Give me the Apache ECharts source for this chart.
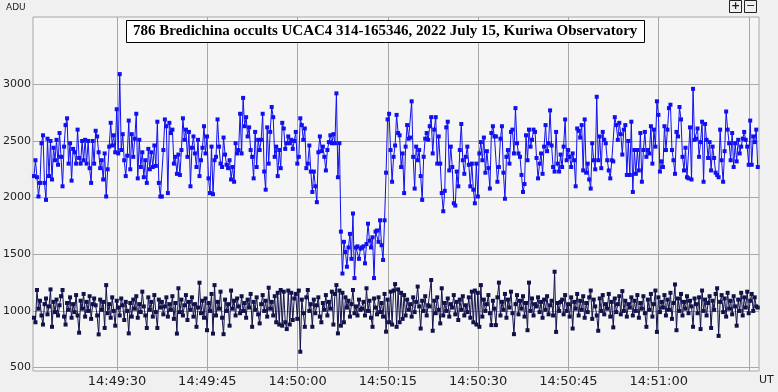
<!DOCTYPE html>
<html lang="en">
<head>
    <meta charset="utf-8">
    <title>786 Bredichina occultation</title>
    <script src="https://cdn.jsdelivr.net/npm/echarts@6.0.0/dist/echarts.min.js"></script>
    <style type="text/css">
        html, body {
            margin: 0;
            padding: 0;
            background: #f0f0f0;
        }

        #main {
            width: 778px;
            height: 392px;
        }
    </style>
</head>
<body>
<div id="main"></div>
<script type="text/javascript">
    // seconds after 14:49:00 UT, one frame every 0.25 s
    const startSec = 16.2;
    const frameStep = 0.25;

    // target star (blue), ADU
    const targetADU = [
        2190, 2330, 2180, 2010, 2130, 2480, 2550, 2130, 1980, 2520, 2190, 2500, 2160, 2440, 2330, 2510, 2290, 2570, 2360, 2100,
        2450, 2640, 2700, 2300, 2480, 2150, 2430, 2400, 2300, 2600, 2350, 2300, 2500, 2330, 2510, 2300, 2500, 2260, 2130, 2500, 2300,
        2590, 2540, 2400, 2260, 2330, 2160, 2390, 2010, 2250, 2450, 2660, 2460, 2550, 2400, 2780, 2390, 3090, 2420, 2560, 2330,
        2190, 2370, 2680, 2250, 2560, 2360, 2520, 2740, 2170, 2510, 2270, 2400, 2180, 2330, 2130, 2430, 2250, 2400, 2270, 2460,
        2280, 2670, 2130, 2010,
        2010, 2420, 2690, 2630, 2040, 2660, 2570, 2600, 2300, 2360, 2210, 2380, 2200, 2420, 2700, 2510, 2600, 2360, 2580, 2100,
        2440, 2540, 2390, 2270, 2510, 2190, 2330, 2440, 2630, 2390, 2540, 2170, 2040, 2450, 2030, 2330, 2360, 2690, 2450, 2300,
        2270, 2530, 2380, 2290, 2260,
        2330, 2160, 2270, 2140, 2480, 2390, 2420, 2740, 2390, 2880, 2630, 2710, 2540, 2620, 2420, 2360, 2170, 2580, 2270, 2510,
        2420, 2510, 2740, 2230, 2070, 2620, 2300, 2580, 2800, 2710, 2360, 2450, 2190, 2420, 2260, 2660, 2610, 2430, 2480, 2540,
        2480, 2510, 2430, 2500,
        2580, 2300, 2360, 2700, 2640, 2510, 2610, 2260, 2300, 2460, 2230, 2050, 2230, 2100, 1960, 2400, 2540, 2410, 2450, 2360,
        2240, 2420, 2490, 2550, 2480, 2560, 2480, 2920, 2180, 2480, 1700, 1330, 1610, 1520, 1390, 1560, 1680, 1460, 1860, 1290,
        1560, 1570, 1460, 1550,
        1560, 1570, 1420, 1590, 1770, 1620, 1560, 1650, 1290, 1700, 1710, 1610, 1800, 1580, 1450, 1800, 2220, 2690, 2740, 2420,
        2140, 2360, 2460, 2730, 2570, 2550, 2270, 2390, 2040, 2450, 2640, 2520, 2530, 2850, 2360, 2080, 2450, 2330, 2420, 2190,
        1980, 2360, 2520, 2570, 2510,
        2630, 2710, 2390, 2600, 2710, 2300, 2540, 2300, 2040, 1880, 2060, 2620, 2670, 2240, 2450, 2270, 1950, 1930, 2230, 2100,
        2420, 2650, 2330, 2210, 2360, 2450, 2290, 2100, 2300, 2070, 1950, 2300, 2010, 2390, 2490, 2330, 2530, 2220, 2410, 2260,
        2080, 2570, 2630, 2540,
        2540, 2140, 2270, 2520, 2630, 2220, 1990, 2360, 2420, 2300, 2580, 2600, 2390, 2790, 2480, 2390, 2360, 2200, 2050, 2120,
        2550, 2330, 2600, 2450, 2510, 2600, 2580, 2350, 2170, 2300, 2390, 2210, 2450, 2640, 2410, 2480, 2770, 2460, 2270, 2230,
        2580, 2300, 2230, 2380,
        2270, 2450, 2690, 2330, 2420, 2360, 2270, 2390, 2330, 2100, 2610, 2590, 2530, 2640, 2240, 2690, 2220, 2300, 2160, 2080,
        2480, 2330, 2250, 2890, 2330, 2540, 2260, 2580, 2510, 2480, 2330, 2240, 2170, 2330, 2320, 2710, 2640, 2510, 2660, 2560,
        2380, 2600, 2640, 2200, 2500,
        2200, 2670, 2050, 2420, 2210, 2420, 2240, 2570, 2140, 2420, 2580, 2360, 2420, 2390, 2630, 2300, 2600, 2450, 2850, 2730,
        2230, 2320, 2270, 2630, 2420, 2600, 2790, 2820, 2420, 2330, 2210, 2580, 2540, 2800, 2690, 2360, 2240, 2440, 2180, 2170,
        2620, 2160, 2960, 2510,
        2520, 2610, 2360, 2490, 2670, 2140, 2650, 2510, 2350, 2490, 2240, 2450, 2350, 2220, 2200, 2180, 2600, 2330, 2140, 2410,
        2760, 2600, 2480, 2330, 2570, 2270, 2480, 2320, 2510, 2390, 2450, 2520, 2580, 2510, 2450, 2290, 2680, 2290, 2540, 2490,
        2600, 2270
    ];

    // comparison star (navy), ADU
    const comparisonADU = [
        940, 900, 1185, 1020, 1090, 960, 880, 1060, 1110, 970, 1040, 1190, 860, 1080, 990, 1100, 960, 1050, 1130, 1185,
        950, 880, 1070, 1010, 1120, 940, 1060, 990, 1140, 960, 808, 1090, 1020, 1150, 950, 1080, 1000, 1130, 930, 1060, 1110,
        1050, 960, 793, 1100, 1010, 1080, 850, 1228, 980, 1060, 940, 1120, 1000, 870, 1090, 1030, 960, 1110, 1050, 920,
        1080, 1000, 802, 1070, 950, 1100, 1020, 1130, 940, 1060, 990, 1170, 1040, 960, 850, 1120, 1010, 1080, 950, 1140,
        990, 850, 1100, 1030,
        1080, 970, 1040, 1120, 950, 1060, 1010, 1130, 930, 1070, 800, 1200, 990, 1100, 960, 1050, 1140, 920, 1080, 1010,
        1120, 950, 1060, 860, 1030, 1249, 980, 1090, 940, 1110, 830, 1070, 1000, 1150, 800, 1228, 960, 1080, 1020, 1170,
        940, 795, 1100, 1000, 1060,
        870, 1180, 1020, 1090, 960, 1110, 1040, 980, 1130, 1000, 1070, 940, 1100, 1030, 1150, 860, 1080, 1010, 1120, 970,
        890, 1060, 1140, 1000, 1090, 950, 1205, 1020, 1080, 960, 1130, 900, 1160, 880, 1185, 870, 1170, 900, 840, 1180,
        880, 1160, 920, 1110,
        1150, 930, 1180, 640, 1100, 980, 860, 1120, 1185, 1000, 1060, 860, 1100, 980, 1050, 1120, 950, 900, 1070, 1010,
        1140, 960, 1080, 1020, 1170, 880, 1150, 1228, 802, 1180, 870, 1160, 900, 1120, 1030, 1090, 950, 1060, 1185, 980,
        1040, 960, 1100, 1010,
        1020, 1080, 960, 1200, 1000, 1090, 940, 860, 1110, 1030, 970, 1120, 990, 1070, 950, 1150, 817, 1100, 900, 1170,
        880, 1180, 1237, 860, 1190, 900, 1160, 930, 1140, 960, 1100, 1010, 1060, 950, 1120, 990, 1080, 1215, 1040, 845,
        1090, 1000, 1130, 960, 1050,
        1040, 1273, 825, 1090, 980, 1120, 1010, 890, 1200, 960, 1070, 1000, 1110, 950, 1060, 1030, 1140, 970, 1080, 920,
        1100, 1010, 1130, 960, 1050, 990, 1120, 940, 1170, 900, 1180, 880, 1160, 860, 1228, 950, 1100, 1000, 1060, 1140,
        980, 875, 1090, 1020,
        875, 1120, 1250, 960, 1080, 1010, 1150, 940, 1100, 1030, 1170, 980, 795, 1060, 1140, 970, 1090, 1020, 1130, 950,
        1070, 830, 1250, 1000, 1110, 960, 1060, 1040, 1120, 990, 1080, 940, 1100, 1010, 1130, 970, 1050, 1090, 960, 1346,
        815, 1070, 1000, 1080,
        1100, 970, 1140, 1000, 1060, 950, 1120, 845, 1080, 1020, 1150, 960, 1090, 1010, 1130, 940, 1070, 990, 1120, 1180,
        930, 1100, 1040, 960, 825, 1110, 1000, 1140, 970, 1060, 1020, 1150, 950, 1080, 855, 1110, 990, 1060, 1130, 970,
        1175, 1000, 1090, 950, 1060,
        1030, 1120, 960, 1090, 1000, 1140, 940, 1070, 1020, 1130, 980, 860, 1100, 1010, 1150, 950, 1060, 1180, 815, 1120,
        990, 1080, 1030, 1140, 960, 1100, 1010, 1160, 930, 1070, 1234, 830, 1110, 1000, 1150, 960, 1080, 1020, 1130, 980,
        1090, 1040, 860, 1110,
        1060, 980, 1120, 840, 1180, 1000, 1100, 960, 1070, 1130, 850, 1090, 1010, 1150, 1200, 780, 1080, 1140, 990, 1110,
        950, 1160, 1020, 1090, 970, 1130, 1040, 870, 1100, 1000, 1160, 960, 1120, 1030, 1170, 980, 1090, 1150, 1000, 1120,
        1040, 1030
    ];

    // tick positions (seconds after 14:49:00) and ADU levels
    const timeTicks = [30, 45, 60, 75, 90, 105, 120, 135];
    const timeLabels = [30, 45, 60, 75, 90, 105, 120];
    const aduTicks = [500, 1000, 1500, 2000, 2500, 3000];

    const chartTitle = "786 Bredichina occults UCAC4 314-165346, 2022 July 15, Kuriwa Observatory";

    function toPairs(values) {
        let pairs = [];
        for (let i = 0; i < values.length; i++) {
            pairs.push([startSec + i * frameStep, values[i]]);
        }
        return pairs;
    }

    function fmtTime(sec) {
        let total = 14 * 3600 + 49 * 60 + Math.round(sec);
        let h = Math.floor(total / 3600);
        let m = Math.floor((total % 3600) / 60);
        let s = total % 60;
        return h + ":" + String(m).padStart(2, "0") + ":" + String(s).padStart(2, "0");
    }

    let myChart = echarts.init(document.getElementById("main"));
    myChart.setOption({
        animation: false,
        backgroundColor: "#f0f0f0",
        title: {
            text: chartTitle,
            left: 126,
            top: 20,
            padding: [4, 7, 4, 7],
            backgroundColor: "#ffffff",
            borderColor: "#000000",
            borderWidth: 1,
            textStyle: {
                fontFamily: "Liberation Serif",
                fontWeight: "bold",
                fontSize: 15,
                color: "#000"
            }
        },
        grid: {
            left: 31,
            right: 19,
            top: 17,
            bottom: 21,
            show: true,
            backgroundColor: "#f5f5f5",
            borderColor: "#a8a8a8",
            borderWidth: 1
        },
        xAxis: {
            type: "value",
            min: 16.04,
            max: 136.66,
            axisLine: {show: false},
            axisTick: {show: false, customValues: timeTicks},
            axisLabel: {
                customValues: timeLabels,
                formatter: fmtTime,
                margin: 4,
                color: "#222",
                fontFamily: "DejaVu Sans",
                fontSize: 13
            },
            splitLine: {show: true, lineStyle: {color: "#a8a8a8", width: 1}}
        },
        yAxis: {
            type: "value",
            min: 470,
            max: 3594,
            axisLine: {show: false},
            axisTick: {show: false, customValues: aduTicks},
            axisLabel: {
                customValues: aduTicks,
                formatter: function (v) { return String(v); },
                margin: 2,
                color: "#222",
                fontFamily: "DejaVu Sans",
                fontSize: 11
            },
            splitLine: {show: true, lineStyle: {color: "#a8a8a8", width: 1}}
        },
        graphic: [
            {type: "text", left: 6, top: 3, style: {text: "ADU", fill: "#222", font: "9px DejaVu Sans"}},
            {type: "text", left: 759, top: 375, style: {text: "UT", fill: "#222", font: "11px DejaVu Sans"}},
            {type: "rect", shape: {x: 729.5, y: 0.5, width: 12, height: 12}, style: {fill: "#f0f0f0", stroke: "#222"}},
            {type: "text", x: 735.5, y: 6.5, style: {text: "+", fill: "#222", font: "bold 11px DejaVu Sans", align: "center", verticalAlign: "middle"}},
            {type: "rect", shape: {x: 744.5, y: 0.5, width: 12, height: 12}, style: {fill: "#f0f0f0", stroke: "#222"}},
            {type: "text", x: 750.5, y: 6.5, style: {text: "\u2212", fill: "#222", font: "11px DejaVu Sans", align: "center", verticalAlign: "middle"}}
        ],
        series: [
            {
                name: "comparison",
                type: "line",
                data: toPairs(comparisonADU),
                symbol: "rect",
                symbolSize: 4,
                showSymbol: true,
                lineStyle: {color: "#12124a", width: 1},
                itemStyle: {color: "#12124a"}
            },
            {
                name: "target",
                type: "line",
                data: toPairs(targetADU),
                symbol: "rect",
                symbolSize: 4,
                showSymbol: true,
                lineStyle: {color: "#1010f0", width: 1},
                itemStyle: {color: "#1010f0"}
            }
        ]
    });
</script>
</body>
</html>
